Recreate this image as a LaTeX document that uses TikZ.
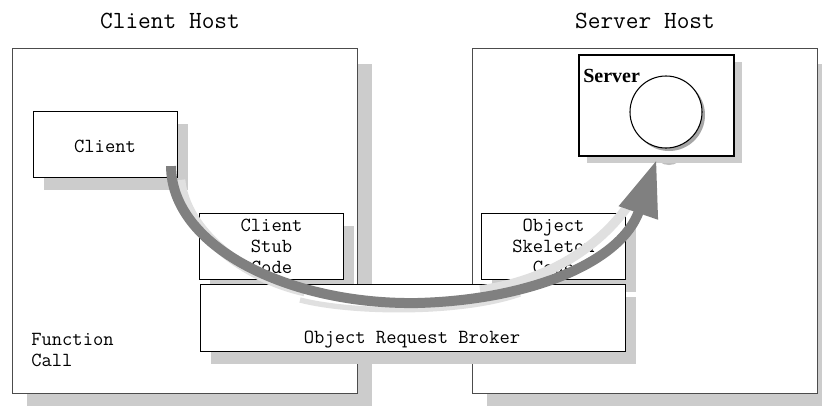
\documentclass[tikz,border=0pt]{standalone}
\usepackage{fontspec}
\setmainfont{Liberation Serif}
\usetikzlibrary{arrows.meta,shadows}
\newcommand\mytxt{\fontsize{15}{15.5}\selectfont\ttfamily}
\newcommand\mytitle{\fontsize{18.5}{20}\selectfont\ttfamily}
\begin{document}
\begin{tikzpicture}[x=0.75pt,y=-0.75pt,
  hostbox/.style={draw=black!70, line width=0.8pt, fill=white, anchor=north west, inner sep=0pt,
    minimum width=258.5pt, minimum height=258.75pt,
    drop shadow={shadow xshift=11pt, shadow yshift=-11.25pt, fill=black!20, opacity=1}},
  part/.style={draw=black, line width=0.8pt, fill=white, anchor=north west, inner sep=0pt,
    align=center, font=\mytxt, minimum width=108pt, minimum height=49.5pt,
    drop shadow={shadow xshift=7.5pt, shadow yshift=-9pt, fill=black!20, opacity=1}},
  lbl/.style={inner sep=0pt, font=\mytxt, align=center},
  ttl/.style={inner sep=0pt, font=\mytitle},
  lightband/.style={draw=black!12, line cap=butt},
  flow/.style={draw=black!50, line width=7.5pt, -{Triangle[length=42pt,width=29pt]}}
]
\useasboundingbox (0,0) rectangle (822,405);

% titles
\node[ttl] (cht) at (170,21) {Client Host};
\node[ttl] (sht) at (645,21) {Server Host};

% host boxes
\node[hostbox] (ch) at (12,48) {};
\node[hostbox] (sh) at (472,48) {};

% client side
\node[part] (cl) at (33,111) {};
\node[lbl] (clt) at (105,146) {Client};
\node[part] (stub) at (199,213) {Client\\Stub\\Code};
\node[lbl, anchor=west, align=left] (fc) at (31,350) {Function\\Call};

% server side
\node[part] (skel) at (481,213) {Object\\Skeleton\\Code};
\fill[black!25] (669,155) ellipse [x radius=9.5pt, y radius=7.5pt];
\node[draw=black, line width=1.5pt, fill=white, anchor=north west, inner sep=0pt,
  minimum width=116.25pt, minimum height=75.75pt,
  drop shadow={shadow xshift=6pt, shadow yshift=-5.5pt, fill=black!20, opacity=1}] (srv) at (578,54) {};
\node[inner sep=0pt, anchor=base west, font=\fontsize{15}{18}\selectfont\bfseries] (srvt) at (583,82) {Server};
\node[circle, draw=black, line width=0.8pt, fill=white, minimum size=54pt, inner sep=0pt,
  drop shadow={shadow xshift=2.25pt, shadow yshift=-2.25pt, fill=black!35, opacity=1}] (obj) at (666,112) {};

% broker
\node[part, minimum width=318.75pt, minimum height=50.25pt] (orb) at (200,284) {};
\node[lbl] (orbt) at (412,340) {Object Request Broker};

% flow arrow
\coordinate (astart) at ([shift={(-7,-12)}]cl.south east);
\coordinate (amid) at ([shift={(4.5,19)}]orb.north);
\coordinate (aend) at ([shift={(0,3)}]srv.south);
\draw[lightband, line width=8pt] (180,180) .. controls (185,232) and (245,278) .. (305,291);
\draw[lightband, line width=4pt] (300,300) .. controls (350,313) and (460,315) .. (520,294);
\draw[lightband, line width=7pt] (480,290) .. controls (540,282) and (598,252) .. (632,200);
\draw[flow] (astart) .. controls +(0,80) and +(-130,2) .. (amid)
  .. controls +(113,-3) and +(-35,102) .. (aend);
\end{tikzpicture}
\end{document}
